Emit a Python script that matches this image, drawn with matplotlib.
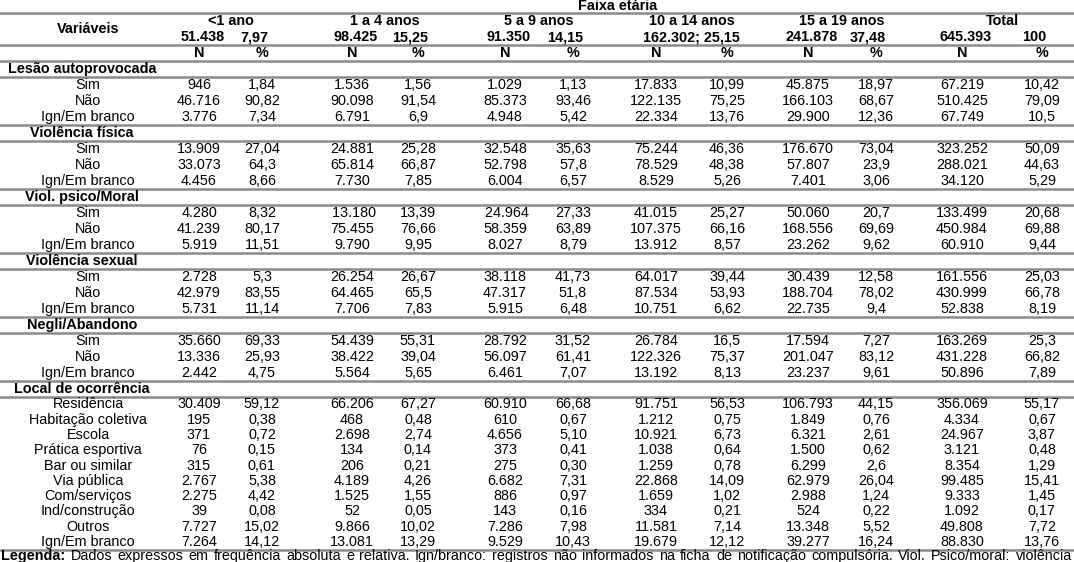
import matplotlib.pyplot as plt

plt.rcParams['font.family'] = ['Liberation Sans', 'DejaVu Sans']

# header data
age_groups = ['<1 ano', '1 a 4 anos', '5 a 9 anos', '10 a 14 anos', '15 a 19 anos', 'Total']
group_n = ['51.438', '98.425', '91.350', '162.302;', '241.878', '645.393']
group_pct = ['7,97', '15,25', '14,15', '25,15', '37,48', '100']

yes_no = ['Sim', 'Não', 'Ign/Em branco']

lesao = [
    ['946', '1,84', '1.536', '1,56', '1.029', '1,13', '17.833', '10,99', '45.875', '18,97', '67.219', '10,42'],
    ['46.716', '90,82', '90.098', '91,54', '85.373', '93,46', '122.135', '75,25', '166.103', '68,67', '510.425', '79,09'],
    ['3.776', '7,34', '6.791', '6,9', '4.948', '5,42', '22.334', '13,76', '29.900', '12,36', '67.749', '10,5'],
]
fisica = [
    ['13.909', '27,04', '24.881', '25,28', '32.548', '35,63', '75.244', '46,36', '176.670', '73,04', '323.252', '50,09'],
    ['33.073', '64,3', '65.814', '66,87', '52.798', '57,8', '78.529', '48,38', '57.807', '23,9', '288.021', '44,63'],
    ['4.456', '8,66', '7.730', '7,85', '6.004', '6,57', '8.529', '5,26', '7.401', '3,06', '34.120', '5,29'],
]
psico = [
    ['4.280', '8,32', ' 13.180', '13,39', ' 24.964', '27,33', '41.015', '25,27', '50.060', '20,7', '133.499', '20,68'],
    ['41.239', '80,17', '75.455', '76,66', '58.359', '63,89', '107.375', '66,16', '168.556', '69,69', '450.984', '69,88'],
    ['5.919', '11,51', '9.790', '9,95', '8.027', '8,79', '13.912', '8,57', '23.262', '9,62', '60.910', '9,44'],
]
sexual = [
    ['2.728', '5,3', '26.254', '26,67', '38.118', '41,73', '64.017', '39,44', '30.439', '12,58', '161.556', '25,03'],
    ['42.979', '83,55', '64.465', '65,5', '47.317', '51,8', '87.534', '53,93', '188.704', '78,02', '430.999', '66,78'],
    ['5.731', '11,14', '7.706', '7,83', '5.915', '6,48', '10.751', '6,62', '22.735', '9,4', '52.838', '8,19'],
]
negli = [
    ['35.660', '69,33', '54.439', '55,31', '28.792', '31,52', '26.784', '16,5', '17.594', '7,27', '163.269', '25,3'],
    ['13.336', '25,93', '38.422', '39,04', '56.097', '61,41', '122.326', '75,37', '201.047', '83,12', '431.228', '66,82'],
    ['2.442', '4,75', '5.564', '5,65', '6.461', '7,07', '13.192', '8,13', '23.237', '9,61', '50.896', '7,89'],
]
local_labels = ['Residência', 'Habitação coletiva', 'Escola', 'Prática esportiva', 'Bar ou similar',
                'Via pública', 'Com/serviços', 'Ind/construção', 'Outros', 'Ign/Em branco']
local = [
    ['30.409', '59,12', '66.206', '67,27', '60.910', '66,68', '91.751', '56,53', '106.793', '44,15', '356.069', '55,17'],
    ['195', '0,38', '468', '0,48', '610', '0,67', '1.212', '0,75', '1.849', '0,76', '4.334', '0,67'],
    ['371', '0,72', '2.698', '2,74', '4.656', '5,10', '10.921', '6,73', '6.321', '2,61', '24.967', '3,87'],
    ['76', '0,15', '134', '0,14', '373', '0,41', '1.038', '0,64', '1.500', '0,62', '3.121', '0,48'],
    ['315', '0,61', '206', '0,21', '275', '0,30', '1.259', '0,78', '6.299', '2,6', '8.354', '1,29'],
    ['2.767', '5,38', '4.189', '4,26', '6.682', '7,31', '22.868', '14,09', '62.979', '26,04', '99.485', '15,41'],
    ['2.275', '4,42', '1.525', '1,55', '886', '0,97', '1.659', '1,02', '2.988', '1,24', '9.333', '1,45'],
    ['39', '0,08', '52', '0,05', '143', '0,16', '334', '0,21', '524', '0,22', '1.092', '0,17'],
    ['7.727', '15,02', '9.866', '10,02', '7.286', '7,98', '11.581', '7,14', '13.348', '5,52', '49.808', '7,72'],
    ['7.264', '14,12', '13.081', '13,29', '9.529', '10,43', '19.679', '12,12', '39.277', '16,24', '88.830', '13,76'],
]

sections = [
    ('Lesão autoprovocada', yes_no, lesao),
    ('Violência física', yes_no, fisica),
    ('Viol. psico/Moral', yes_no, psico),
    ('Violência sexual', yes_no, sexual),
    ('Negli/Abandono', yes_no, negli),
    ('Local de ocorrência', local_labels, local),
]

legend_words = ('Dados expressos em frequência absoluta e relativa. Ign/branco: registros não '
                'informados na ficha de notificação compulsória. Viol. Psico/moral: violência').split()

W, H = 1074, 562
fig = plt.figure(figsize=(W / 100, H / 100), dpi=100)
ax = fig.add_axes([0, 0, 1, 1])
ax.set_xlim(0, W)
ax.set_ylim(H, 0)
ax.axis('off')

fs = 10.4
line_kw = dict(color='#8a8a8a', lw=1.8)
col_x = [199, 262, 352, 418, 505, 573, 656, 727, 808, 876, 962, 1042]
label_x = 88
y0 = 5


def row_y(i):
    # rows are 16 px apart; the last block is set a bit tighter
    if i <= 24:
        return y0 + 16 * i
    return y0 + 16 * 24 + 15.3 * (i - 24)


def hline(i):
    ax.axhline((row_y(i) + row_y(i + 1)) / 2, **line_kw)


# header
ax.text(618, row_y(0) + 1, 'Faixa etária', ha='center', va='center', fontsize=fs, fontweight='bold')
hline(0)
ax.text(88, 29, 'Variáveis', ha='center', va='center', fontsize=fs, fontweight='bold')
for k, g in enumerate(age_groups):
    xn, xp = col_x[2 * k], col_x[2 * k + 1]
    ax.text((xn + xp) / 2, row_y(1), g, ha='center', va='center', fontsize=fs, fontweight='bold')
    if k == 3:
        ax.text((xn + xp) / 2, row_y(2), group_n[k] + ' ' + group_pct[k], ha='center', va='center',
                fontsize=fs, fontweight='bold')
    else:
        ax.text(xn + 4, row_y(2), group_n[k], ha='center', va='center', fontsize=fs, fontweight='bold')
        ax.text(xp - 8, row_y(2), group_pct[k], ha='center', va='center', fontsize=fs, fontweight='bold')
hline(2)
for k in range(6):
    ax.text(col_x[2 * k], row_y(3), 'N', ha='center', va='center', fontsize=fs, fontweight='bold')
    ax.text(col_x[2 * k + 1], row_y(3), '%', ha='center', va='center', fontsize=fs, fontweight='bold')
hline(3)

r = 4
for title, labels, rows in sections:
    ax.text(82, row_y(r), title, ha='center', va='center', fontsize=fs, fontweight='bold')
    hline(r)
    r += 1
    for lab, vals in zip(labels, rows):
        ax.text(label_x, row_y(r), lab, ha='center', va='center', fontsize=fs)
        for x, v in zip(col_x, vals):
            ax.text(x, row_y(r), v, ha='center', va='center', fontsize=fs)
        r += 1
    hline(r - 1)

# legenda line, justified across the width
ly = row_y(r) - 1
renderer = fig.canvas.get_renderer()
items = [ax.text(0, ly, 'Legenda:', fontsize=fs, fontweight='bold', va='center')]
items += [ax.text(0, ly, w, fontsize=fs, va='center') for w in legend_words]
widths = [t.get_window_extent(renderer).width for t in items]
start, end = 1, W - 2
gap = (end - start - sum(widths)) / (len(items) - 1)
x = start
for t, w in zip(items, widths):
    t.set_x(x)
    x += w + gap

fig.savefig('out.png', dpi=100, facecolor='white')
